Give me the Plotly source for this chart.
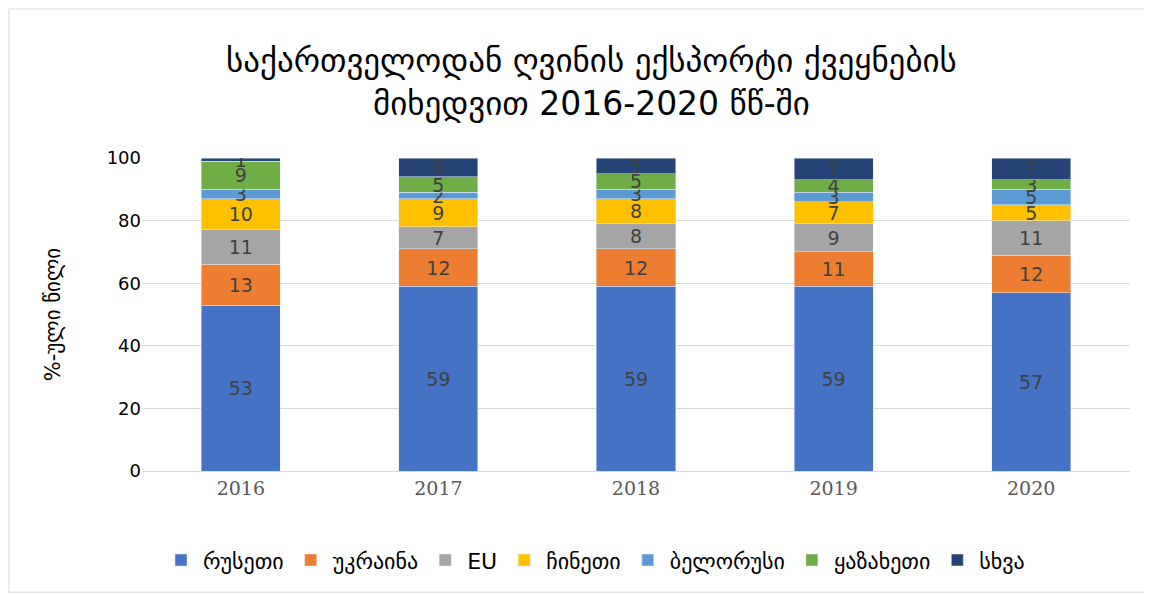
import plotly.graph_objects as go

years = ["2016", "2017", "2018", "2019", "2020"]
russia = [53, 59, 59, 59, 57]
ukraine = [13, 12, 12, 11, 12]
eu = [11, 7, 8, 9, 11]
china = [10, 9, 8, 7, 5]
belarus = [3, 2, 3, 3, 5]
kazakhstan = [9, 5, 5, 4, 3]
other = [1, 6, 5, 7, 7]

series = [
    ("რუსეთი", russia, "#4472C4"),
    ("უკრაინა", ukraine, "#ED7D31"),
    ("EU", eu, "#A5A5A5"),
    ("ჩინეთი", china, "#FFC000"),
    ("ბელორუსი", belarus, "#5B9BD5"),
    ("ყაზახეთი", kazakhstan, "#70AD47"),
    ("სხვა", other, "#264478"),
]

fig = go.Figure()
for name, vals, col in series:
    fig.add_trace(go.Bar(
        x=years, y=vals, name=name,
        marker_color=col,
        text=vals, textposition="inside", insidetextanchor="middle",
        textangle=0, constraintext="none",
        textfont=dict(family="DejaVu Sans", size=19, color="#404040"),
    ))

# page body has an 8px margin, so the figure is sized and offset for it
fig.update_layout(
    barmode="stack",
    bargap=0.6,
    width=1144, height=587,
    paper_bgcolor="white", plot_bgcolor="white",
    margin=dict(l=134, r=22, t=150, b=124),
    title=dict(
        text="საქართველოდან ღვინის ექსპორტი ქვეყნების<br>მიხედვით 2016-2020 წწ-ში",
        x=0.51, xanchor="center", y=1 - 64 / 587, yanchor="middle", yref="container",
        font=dict(family="DejaVu Sans", size=33, color="black"),
    ),
    uniformtext=dict(minsize=19, mode="show"),
    yaxis=dict(
        range=[0, 100], dtick=20, showgrid=True, gridcolor="#D9D9D9",
        tickfont=dict(family="DejaVu Sans", size=18, color="black"),
        title=dict(text="%-ული წილი", font=dict(family="DejaVu Sans", size=21, color="black"), standoff=40),
        zeroline=False, ticks="", ticklen=0, automargin=False,
    ),
    xaxis=dict(
        tickfont=dict(family="DejaVu Serif", size=19, color="#595959"),
        showline=True, linecolor="#D9D9D9", automargin=False,
    ),
    legend=dict(
        orientation="h", x=0.458, xanchor="center", y=-0.285, yanchor="middle",
        font=dict(family="DejaVu Sans", size=22, color="black"),
        traceorder="normal", itemwidth=34,
    ),
    showlegend=True,
)

fig.add_shape(type="rect", xref="paper", yref="paper",
              x0=-0.1346, x1=1.0213, y0=-0.387, y1=1.476,
              line=dict(color="#D9D9D9", width=1), fillcolor="rgba(0,0,0,0)", layer="below")

fig.write_html("out.html")
